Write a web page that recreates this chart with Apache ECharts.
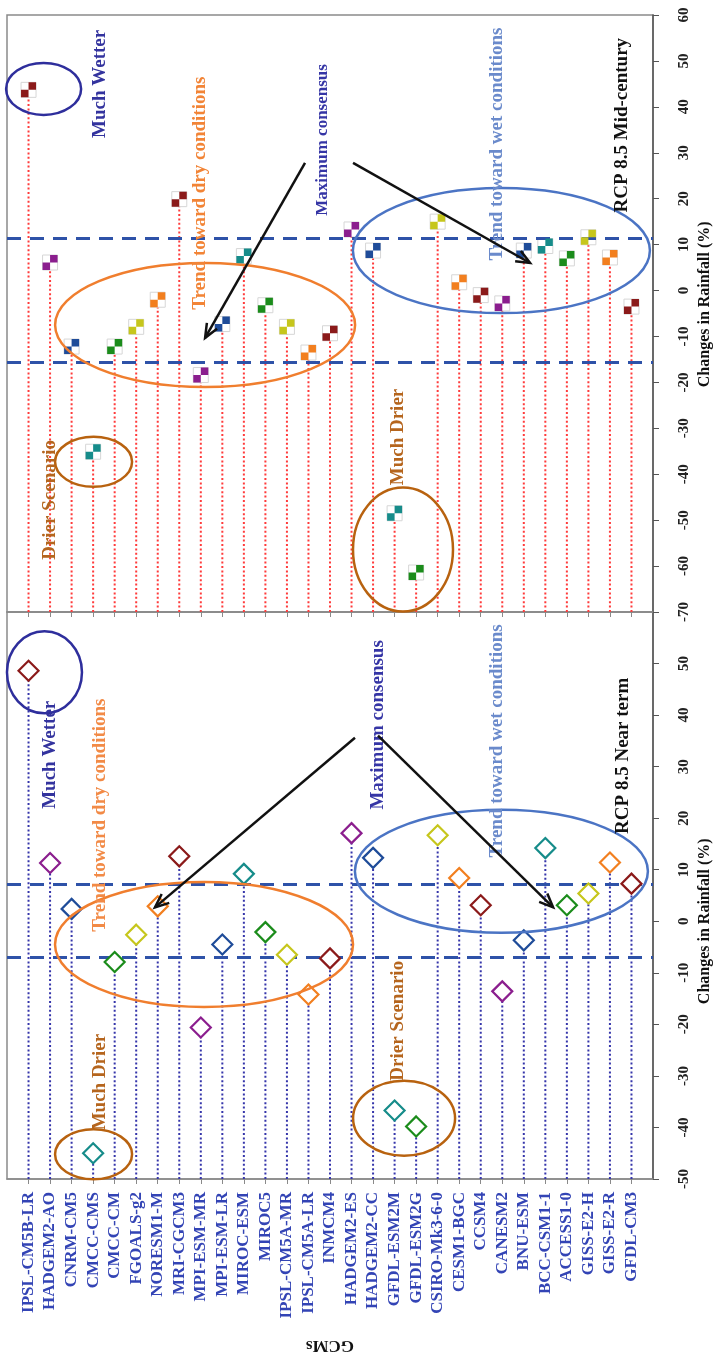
<!DOCTYPE html>
<html>
<head>
<meta charset="utf-8">
<script src="https://cdn.jsdelivr.net/npm/echarts@6/dist/echarts.min.js"></script>
<style>
  html, body { margin: 0; padding: 0; background: #fff; }
  #chart { width: 716px; height: 1355px; }
</style>
</head>
<body>
<div id="chart"></div>
<script>
// GCM names, left to right along the category axis
const models = [
  'IPSL-CM5B-LR', 'HADGEM2-AO', 'CNRM-CM5', 'CMCC-CMS', 'CMCC-CM', 'FGOALS-g2',
  'NORESM1-M', 'MRI-CGCM3', 'MPI-ESM-MR', 'MPI-ESM-LR', 'MIROC-ESM', 'MIROC5',
  'IPSL-CM5A-MR', 'IPSL-CM5A-LR', 'INMCM4', 'HADGEM2-ES', 'HADGEM2-CC', 'GFDL-ESM2M',
  'GFDL-ESM2G', 'CSIRO-Mk3-6-0', 'CESM1-BGC', 'CCSM4', 'CANESM2', 'BNU-ESM',
  'BCC-CSM1-1', 'ACCESS1-0', 'GISS-E2-H', 'GISS-E2-R', 'GFDL-CM3'
];

// Changes in rainfall (%), RCP 8.5 near term
const nearTerm = [
  48.6, 11.3, 2.4, -45.0, -7.9, -2.6,
  2.9, 12.6, -20.6, -4.5, 9.2, -2.1,
  -6.5, -14.2, -7.2, 17.1, 12.3, -36.7,
  -39.8, 16.7, 8.4, 3.1, -13.6, -3.7,
  14.2, 3.1, 5.4, 11.4, 7.3
];

// Changes in rainfall (%), RCP 8.5 mid-century
const midCentury = [
  43.7, 6.1, -12.2, -35.1, -12.2, -7.9,
  -2.0, 19.9, -18.4, -7.3, 7.5, -3.2,
  -7.9, -13.5, -9.3, 13.3, 8.7, -48.5,
  -61.4, 15.0, 1.8, -1.0, -2.8, 8.7,
  9.7, 7.0, 11.6, 7.2, -3.5
];

// consensus band limits (%)
const nearBand = [-7.0, 7.2];
const midBand = [-15.6, 11.4];

// value axis ranges
const nearAxis = { min: -50, max: 60, step: 10 };
const midAxis = { min: -70, max: 60, step: 10 };

// repeating marker palette
const palette = ['#8B1A1A', '#8B1E8E', '#1F4C99', '#168C8A', '#1B8C1B', '#C6C61C', '#F27F1F'];

const modelSlots = models.map((_, i) => i + 1);
const serif = '"Liberation Serif", "DejaVu Serif", serif';

const chart = echarts.init(document.getElementById('chart'));

function stems(gi, values, base, color) {
  return {
    type: 'custom',
    xAxisIndex: gi, yAxisIndex: gi,
    silent: true, z: 2,
    data: values.map((v, i) => [i + 1, v]),
    renderItem: function (params, api) {
      const a = api.coord([api.value(0), base]);
      const b = api.coord([api.value(0), api.value(1)]);
      return {
        type: 'line',
        shape: { x1: a[0], y1: a[1], x2: b[0], y2: b[1] },
        style: { stroke: color, lineWidth: 2, lineDash: [2, 2.4] }
      };
    }
  };
}

function band(values) {
  return {
    silent: true,
    symbol: 'none',
    label: { show: false },
    lineStyle: { color: '#2E52A8', width: 3, type: [14, 9], opacity: 1 },
    data: values.map(v => ({ yAxis: v }))
  };
}

function catAxis(gi, withLabels) {
  return {
    gridIndex: gi, type: 'value', min: 0, max: 30, interval: 1,
    position: 'bottom',
    axisLine: { show: true, onZero: false, lineStyle: { color: '#8a8a8a', width: 1.5 } },
    axisTick: { show: true, length: 5, customValues: modelSlots, lineStyle: { color: '#8a8a8a' } },
    axisLabel: withLabels ? {
      show: true, customValues: modelSlots, rotate: 90, margin: 13,
      color: '#3344B5', fontWeight: 'bold', fontSize: 17, fontFamily: serif,
      formatter: v => models[v - 1] || ''
    } : { show: false },
    splitLine: { show: false },
    name: withLabels ? 'GCMs' : '',
    nameLocation: 'middle', nameGap: 158, nameRotate: 180,
    nameTextStyle: { color: '#111', fontWeight: 'bold', fontSize: 17, fontFamily: serif }
  };
}

function valAxis(gi, range, hideMax) {
  return {
    gridIndex: gi, type: 'value', position: 'right',
    min: range.min, max: range.max, interval: range.step,
    axisLine: { show: true, onZero: false, lineStyle: { color: '#555', width: 1.5 } },
    axisTick: { show: true, length: 6, lineStyle: { color: '#555' } },
    axisLabel: {
      rotate: 90, margin: 24, showMaxLabel: !hideMax,
      color: '#222', fontWeight: 'bold', fontSize: 15, fontFamily: serif
    },
    splitLine: { show: false }
  };
}

chart.setOption({
  animation: false,
  backgroundColor: '#fff',
  grid: [
    { left: 7, right: 63, top: 15, height: 597, show: true, borderColor: '#8a8a8a', borderWidth: 1.5 },
    { left: 7, right: 63, top: 612, height: 570, show: true, borderColor: '#8a8a8a', borderWidth: 1.5 }
  ],
  xAxis: [catAxis(0, false), catAxis(1, true)],
  yAxis: [valAxis(0, midAxis, false), valAxis(1, nearAxis, true)],
  series: [
    stems(0, midCentury, midAxis.min, '#FF3B3B'),
    stems(1, nearTerm, nearAxis.min, '#3535AA'),
    {
      // white backing square of each mid-century marker
      type: 'scatter', xAxisIndex: 0, yAxisIndex: 0, z: 4,
      symbol: 'rect', symbolSize: 15,
      itemStyle: { color: '#fff', borderColor: '#d6d6d6', borderWidth: 1, opacity: 1 },
      data: midCentury.map((v, i) => [i + 1, v]),
      markLine: band(midBand)
    },
    {
      // two coloured quarters of each mid-century marker
      type: 'scatter', xAxisIndex: 0, yAxisIndex: 0, z: 5,
      symbol: 'path://M10,0H20V10H10Z M0,10H10V20H0Z', symbolSize: 15,
      itemStyle: { color: p => palette[p.dataIndex % palette.length], opacity: 1 },
      data: midCentury.map((v, i) => [i + 1, v])
    },
    {
      type: 'scatter', xAxisIndex: 1, yAxisIndex: 1, z: 5,
      symbol: 'diamond', symbolSize: 20,
      data: nearTerm.map((v, i) => ({
        value: [i + 1, v],
        itemStyle: { color: '#fff', borderColor: palette[i % palette.length], borderWidth: 2.2, opacity: 1 }
      })),
      markLine: band(nearBand)
    }
  ]
});

// Annotation layer, anchored in each panel's data space
const ovals = [
  { g: 0, at: [1.70, 43.9], rx: 37.5, ry: 26, color: '#2E2E9C' },
  { g: 0, at: [9.20, -7.5], rx: 150, ry: 62, color: '#F07E2E' },
  { g: 0, at: [4.02, -37.3], rx: 38.5, ry: 25, color: '#B8620F' },
  { g: 0, at: [18.39, -56.4], rx: 50, ry: 62, color: '#B8620F' },
  { g: 0, at: [22.96, 8.7], rx: 148.5, ry: 62.5, color: '#4B74C4' },
  { g: 1, at: [1.74, 48.3], rx: 37.5, ry: 41, color: '#2E2E9C' },
  { g: 1, at: [9.15, -4.5], rx: 149, ry: 62.5, color: '#F07E2E' },
  { g: 1, at: [4.02, -45.2], rx: 38.5, ry: 25, color: '#B8620F' },
  { g: 1, at: [18.44, -38.2], rx: 51, ry: 37.5, color: '#B8620F' },
  { g: 1, at: [22.96, 9.7], rx: 146.5, ry: 61.5, color: '#4B74C4' }
];

const notes = [
  { g: 0, at: [4.32, 45.0], text: 'Much Wetter', color: '#33339E', size: 19 },
  { g: 0, at: [8.96, 21.2], text: 'Trend toward dry conditions', color: '#F28436', size: 19 },
  { g: 0, at: [14.68, 32.8], text: 'Maximum consensus', color: '#3535A5', size: 17 },
  { g: 0, at: [22.76, 31.9], text: 'Trend toward wet conditions', color: '#6A8ACB', size: 19 },
  { g: 0, at: [28.56, 36.0], text: 'RCP 8.5 Mid-century', color: '#111', size: 19 },
  { g: 0, at: [2.00, -45.6], text: 'Drier Scenario', color: '#B5651D', size: 19 },
  { g: 0, at: [18.16, -31.9], text: 'Much Drier', color: '#B5651D', size: 19 },
  { g: 1, at: [2.00, 32.3], text: 'Much Wetter', color: '#33339E', size: 19 },
  { g: 1, at: [4.32, 20.6], text: 'Trend toward dry conditions', color: '#F28A46', size: 19 },
  { g: 1, at: [17.23, 38.1], text: 'Maximum consensus', color: '#3535A5', size: 19 },
  { g: 1, at: [22.76, 35.0], text: 'Trend toward wet conditions', color: '#6A8ACB', size: 19 },
  { g: 1, at: [28.61, 32.1], text: 'RCP 8.5 Near term', color: '#111', size: 19 },
  { g: 1, at: [4.32, -31.2], text: 'Much Drier', color: '#B5651D', size: 19 },
  { g: 1, at: [18.16, -19.3], text: 'Drier Scenario', color: '#B5651D', size: 19 }
];

// value-axis titles, centred on a value of each panel and set off to the right of the axis
const axisTitles = [
  { g: 0, at: [30, -3], text: 'Changes in Rainfall (%)' },
  { g: 1, at: [30, 0], text: 'Changes in Rainfall (%)' }
];

const pointers = [
  { g: 0, from: [13.84, 27.8], to: [9.20, -10.3] },
  { g: 0, from: [16.07, 27.8], to: [24.29, 6.0] },
  { g: 1, from: [16.16, 35.6], to: [6.87, 2.7] },
  { g: 1, from: [17.23, 36.0], to: [25.36, 2.7] }
];

function toPx(g, p) {
  return chart.convertToPixel({ gridIndex: g }, p);
}

const graphics = [];
ovals.forEach(o => {
  const c = toPx(o.g, o.at);
  graphics.push({
    type: 'ellipse', z: 20, silent: true,
    shape: { cx: c[0], cy: c[1], rx: o.rx, ry: o.ry },
    style: { fill: 'none', stroke: o.color, lineWidth: 2.5 }
  });
});
notes.forEach(n => {
  const c = toPx(n.g, n.at);
  graphics.push({
    type: 'text', z: 21, silent: true,
    x: c[0], y: c[1], rotation: Math.PI / 2,
    style: {
      text: n.text, fill: n.color, align: 'center', verticalAlign: 'middle',
      font: 'bold ' + n.size + 'px ' + serif
    }
  });
});
axisTitles.forEach(t => {
  const c = toPx(t.g, t.at);
  graphics.push({
    type: 'text', z: 21, silent: true,
    x: c[0] + 52, y: c[1], rotation: Math.PI / 2,
    style: {
      text: t.text, fill: '#111', align: 'center', verticalAlign: 'middle',
      font: 'bold 16px ' + serif
    }
  });
});
pointers.forEach(p => {
  const a = toPx(p.g, p.from);
  const b = toPx(p.g, p.to);
  const ang = Math.atan2(b[1] - a[1], b[0] - a[0]);
  const head = 15, spread = 0.4;
  graphics.push({
    type: 'line', z: 22, silent: true,
    shape: { x1: a[0], y1: a[1], x2: b[0], y2: b[1] },
    style: { stroke: '#111', lineWidth: 2.5 }
  });
  graphics.push({
    type: 'polyline', z: 22, silent: true,
    shape: { points: [
      [b[0] - head * Math.cos(ang - spread), b[1] - head * Math.sin(ang - spread)],
      [b[0], b[1]],
      [b[0] - head * Math.cos(ang + spread), b[1] - head * Math.sin(ang + spread)]
    ] },
    style: { stroke: '#111', lineWidth: 2.5, fill: 'none' }
  });
});

chart.setOption({ graphic: graphics });
</script>
</body>
</html>
